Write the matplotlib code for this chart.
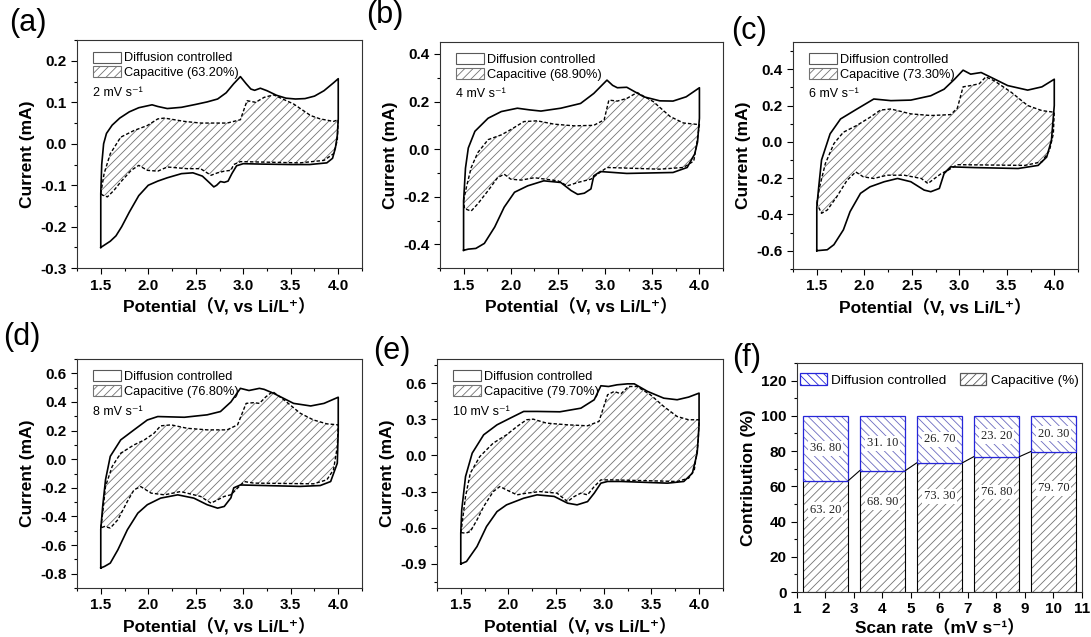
import numpy as np
import matplotlib
matplotlib.use('Agg')
import matplotlib.pyplot as plt
from matplotlib.patches import Patch
from matplotlib.ticker import MultipleLocator, AutoMinorLocator, FormatStrFormatter

plt.rcParams['font.family'] = ['Liberation Sans', 'Noto Sans CJK SC', 'DejaVu Sans']
plt.rcParams['hatch.linewidth'] = 0.6

scan_rates = [2, 4, 6, 8, 10]
capacitive = [63.20, 68.90, 73.30, 76.80, 79.70]
diffusion = [36.80, 31.10, 26.70, 23.20, 20.30]
panel_tags = ['(a)', '(b)', '(c)', '(d)', '(e)', '(f)']

# CV loops as (potential V, current mA): anodic sweep, then cathodic sweep back
a_solid = [(1.5, -0.25), (1.5, -0.12), (1.51, -0.05), (1.53, 0.0), (1.56, 0.025), (1.62, 0.045), (1.7, 0.062),
           (1.8, 0.077), (1.9, 0.087), (2.04, 0.094), (2.1, 0.09), (2.2, 0.085), (2.35, 0.088), (2.5, 0.095),
           (2.62, 0.101), (2.73, 0.108), (2.82, 0.123), (2.9, 0.145), (2.97, 0.162), (3.03, 0.145), (3.08, 0.132),
           (3.12, 0.129), (3.18, 0.134), (3.25, 0.128), (3.35, 0.117), (3.45, 0.11), (3.55, 0.108), (3.65, 0.109),
           (3.75, 0.115), (3.85, 0.128), (3.95, 0.147), (4.0, 0.157),
           (4.0, 0.06), (3.99, 0.02), (3.97, -0.01), (3.94, -0.035), (3.88, -0.046), (3.7, -0.05), (3.5, -0.05),
           (3.2, -0.049), (3.0, -0.048), (2.93, -0.053), (2.88, -0.072), (2.84, -0.09), (2.8, -0.093),
           (2.76, -0.091), (2.72, -0.1), (2.69, -0.104), (2.64, -0.093), (2.57, -0.078), (2.47, -0.07),
           (2.35, -0.072), (2.2, -0.082), (2.1, -0.09), (2.0, -0.1), (1.9, -0.125), (1.8, -0.165), (1.72, -0.2),
           (1.66, -0.222), (1.6, -0.235), (1.5, -0.25)]
a_dash = [(1.5, -0.12), (1.535, -0.072), (1.6, -0.024), (1.71, 0.016), (1.85, 0.032), (1.99, 0.044), (2.1, 0.06),
          (2.17, 0.062), (2.38, 0.054), (2.55, 0.05), (2.83, 0.05), (2.97, 0.058), (3.04, 0.104), (3.13, 0.1),
          (3.22, 0.112), (3.32, 0.118), (3.53, 0.096), (3.71, 0.068), (3.81, 0.06), (3.95, 0.054), (4.0, 0.058),
          (3.99, 0.008), (3.95, -0.024), (3.85, -0.04), (3.6, -0.046), (2.97, -0.043), (2.9, -0.05), (2.87, -0.064),
          (2.8, -0.066), (2.73, -0.07), (2.66, -0.076), (2.55, -0.06), (2.41, -0.06), (2.2, -0.056), (2.1, -0.066),
          (1.99, -0.064), (1.9, -0.052), (1.82, -0.064), (1.71, -0.092), (1.64, -0.112), (1.57, -0.128),
          (1.52, -0.124), (1.5, -0.12)]

b_solid = [(1.5, -0.425), (1.5, -0.22), (1.52, -0.08), (1.55, 0.005), (1.62, 0.075), (1.76, 0.13), (1.9, 0.158),
           (2.07, 0.172), (2.2, 0.165), (2.32, 0.16), (2.53, 0.172), (2.74, 0.192), (2.88, 0.234), (3.02, 0.29),
           (3.08, 0.268), (3.13, 0.258), (3.23, 0.26), (3.32, 0.24), (3.41, 0.22), (3.58, 0.203), (3.72, 0.202),
           (3.86, 0.22), (4.0, 0.258),
           (4.0, 0.13), (3.98, 0.03), (3.95, -0.02), (3.87, -0.077), (3.72, -0.098), (3.23, -0.102), (2.95, -0.094),
           (2.88, -0.112), (2.85, -0.167), (2.78, -0.185), (2.71, -0.19), (2.64, -0.174), (2.53, -0.14),
           (2.35, -0.133), (2.18, -0.154), (2.04, -0.181), (1.93, -0.244), (1.83, -0.327), (1.72, -0.396),
           (1.63, -0.417), (1.55, -0.42), (1.5, -0.425)]
b_dash = [(1.5, -0.216), (1.53, -0.16), (1.58, -0.078), (1.65, -0.015), (1.76, 0.04), (1.9, 0.06), (2.0, 0.082),
          (2.14, 0.116), (2.28, 0.119), (2.46, 0.105), (2.67, 0.098), (2.88, 0.1), (2.99, 0.123), (3.04, 0.206),
          (3.13, 0.202), (3.23, 0.213), (3.34, 0.238), (3.51, 0.2), (3.69, 0.137), (3.83, 0.11), (4.0, 0.103),
          (3.97, 0.02), (3.94, -0.05), (3.83, -0.077), (3.58, -0.084), (3.02, -0.077), (2.92, -0.105),
          (2.85, -0.126), (2.78, -0.133), (2.71, -0.14), (2.6, -0.154), (2.5, -0.133), (2.25, -0.12), (2.11, -0.13),
          (2.0, -0.126), (1.93, -0.105), (1.86, -0.12), (1.76, -0.174), (1.65, -0.23), (1.58, -0.26),
          (1.51, -0.25), (1.5, -0.216)]

c_solid = [(1.5, -0.6), (1.5, -0.36), (1.52, -0.25), (1.55, -0.1), (1.64, 0.044), (1.75, 0.126), (1.92, 0.18),
           (2.1, 0.236), (2.28, 0.227), (2.49, 0.23), (2.7, 0.254), (2.84, 0.29), (2.95, 0.345), (3.04, 0.395),
           (3.12, 0.373), (3.23, 0.382), (3.34, 0.354), (3.51, 0.31), (3.72, 0.285), (3.87, 0.303), (4.0, 0.345),
           (4.0, 0.2), (3.97, 0.008), (3.92, -0.084), (3.83, -0.13), (3.62, -0.147), (3.16, -0.142), (2.91, -0.138),
           (2.84, -0.175), (2.79, -0.257), (2.7, -0.275), (2.63, -0.266), (2.49, -0.22), (2.35, -0.202),
           (2.21, -0.22), (2.06, -0.248), (1.96, -0.284), (1.85, -0.385), (1.78, -0.485), (1.68, -0.567),
           (1.61, -0.595), (1.5, -0.6)]
c_dash = [(1.5, -0.34), (1.53, -0.248), (1.59, -0.12), (1.68, -0.01), (1.78, 0.053), (1.92, 0.09), (2.06, 0.135),
          (2.17, 0.175), (2.28, 0.181), (2.49, 0.154), (2.7, 0.145), (2.91, 0.15), (2.98, 0.186), (3.04, 0.303),
          (3.12, 0.31), (3.21, 0.32), (3.28, 0.358), (3.37, 0.336), (3.55, 0.272), (3.72, 0.2), (3.87, 0.172),
          (4.0, 0.163),
          (3.99, 0.044), (3.95, -0.047), (3.87, -0.11), (3.69, -0.13), (2.98, -0.126), (2.88, -0.157),
          (2.81, -0.175), (2.74, -0.202), (2.67, -0.23), (2.6, -0.202), (2.42, -0.184), (2.24, -0.184),
          (2.1, -0.202), (1.99, -0.193), (1.91, -0.166), (1.82, -0.211), (1.71, -0.303), (1.61, -0.376),
          (1.55, -0.394), (1.5, -0.34)]

d_solid = [(1.5, -0.76), (1.5, -0.49), (1.52, -0.33), (1.55, -0.144), (1.6, 0.02), (1.71, 0.135), (1.85, 0.205),
           (1.99, 0.274), (2.1, 0.298), (2.38, 0.293), (2.62, 0.31), (2.76, 0.333), (2.87, 0.4), (2.97, 0.495),
           (3.06, 0.48), (3.17, 0.495), (3.22, 0.488), (3.32, 0.46), (3.53, 0.39), (3.71, 0.372), (3.85, 0.39),
           (4.0, 0.433),
           (4.0, 0.2), (3.99, -0.028), (3.92, -0.156), (3.81, -0.184), (3.6, -0.19), (2.97, -0.18), (2.9, -0.2),
           (2.87, -0.27), (2.8, -0.33), (2.73, -0.342), (2.62, -0.318), (2.48, -0.272), (2.31, -0.249),
           (2.13, -0.272), (1.99, -0.318), (1.89, -0.377), (1.78, -0.493), (1.68, -0.633), (1.6, -0.726),
           (1.54, -0.749), (1.5, -0.76)]
d_dash = [(1.5, -0.48), (1.52, -0.377), (1.55, -0.19), (1.62, -0.051), (1.71, 0.042), (1.85, 0.1), (1.96, 0.135),
          (2.06, 0.181), (2.13, 0.233), (2.24, 0.24), (2.41, 0.216), (2.62, 0.205), (2.83, 0.205), (2.94, 0.24),
          (3.03, 0.39), (3.11, 0.395), (3.17, 0.39), (3.24, 0.437), (3.31, 0.472), (3.43, 0.414), (3.6, 0.321),
          (3.74, 0.274), (3.88, 0.247), (4.0, 0.24),
          (3.99, 0.088), (3.95, -0.074), (3.88, -0.144), (3.74, -0.172), (3.11, -0.167), (3.01, -0.156),
          (2.94, -0.202), (2.87, -0.249), (2.8, -0.26), (2.73, -0.284), (2.66, -0.307), (2.55, -0.26),
          (2.34, -0.226), (2.17, -0.249), (2.03, -0.237), (1.92, -0.191), (1.85, -0.214), (1.78, -0.295),
          (1.68, -0.423), (1.6, -0.481), (1.54, -0.47), (1.5, -0.48)]

e_solid = [(1.5, -0.9), (1.5, -0.645), (1.51, -0.452), (1.55, -0.175), (1.62, 0.019), (1.74, 0.171),
           (1.88, 0.254), (2.02, 0.31), (2.16, 0.365), (2.3, 0.365), (2.54, 0.362), (2.76, 0.392), (2.9, 0.462),
           (2.97, 0.578), (3.05, 0.572), (3.14, 0.586), (3.25, 0.594), (3.32, 0.594), (3.46, 0.531), (3.63, 0.475),
           (3.77, 0.462), (3.89, 0.484), (4.0, 0.517),
           (4.0, 0.25), (3.98, 0.019), (3.93, -0.147), (3.84, -0.216), (3.67, -0.23), (3.18, -0.216),
           (3.04, -0.216), (2.97, -0.23), (2.9, -0.313), (2.83, -0.383), (2.72, -0.41), (2.62, -0.396),
           (2.48, -0.34), (2.3, -0.327), (2.16, -0.355), (1.98, -0.41), (1.88, -0.466), (1.77, -0.59),
           (1.67, -0.756), (1.56, -0.88), (1.5, -0.9)]
e_dash = [(1.5, -0.64), (1.51, -0.59), (1.55, -0.34), (1.6, -0.147), (1.7, -0.009), (1.84, 0.102), (1.98, 0.171),
          (2.09, 0.24), (2.19, 0.296), (2.26, 0.301), (2.4, 0.268), (2.62, 0.254), (2.83, 0.246), (2.95, 0.282),
          (3.04, 0.503), (3.11, 0.531), (3.18, 0.511), (3.26, 0.572), (3.35, 0.572), (3.49, 0.503), (3.63, 0.406),
          (3.77, 0.323), (3.89, 0.296), (4.0, 0.296),
          (3.99, 0.102), (3.95, -0.12), (3.89, -0.189), (3.77, -0.216), (3.11, -0.203), (2.97, -0.203),
          (2.9, -0.258), (2.83, -0.327), (2.76, -0.313), (2.69, -0.341), (2.62, -0.383), (2.51, -0.313),
          (2.33, -0.3), (2.19, -0.313), (2.09, -0.327), (1.98, -0.286), (1.91, -0.258), (1.84, -0.3),
          (1.74, -0.424), (1.67, -0.535), (1.6, -0.632), (1.55, -0.645), (1.5, -0.64)]

solid_loops = [a_solid, b_solid, c_solid, d_solid, e_solid]
dash_loops = [a_dash, b_dash, c_dash, d_dash, e_dash]

# layout (figure fractions) and axis ranges
rects = [[0.0706, 0.579, 0.2612, 0.358], [0.4033, 0.579, 0.2594, 0.355], [0.7269, 0.578, 0.2612, 0.356],
         [0.0706, 0.0769, 0.2612, 0.3595], [0.4005, 0.0769, 0.2621, 0.3595], [0.7305, 0.0706, 0.2612, 0.3595]]
ylims = [(-0.3, 0.25), (-0.5, 0.45), (-0.7, 0.55), (-0.9, 0.7), (-1.1, 0.8)]
ysteps = [0.1, 0.2, 0.2, 0.2, 0.3]
tag_px = [(9, 8), (366, 0), (731, 16), (3, 322), (373, 336), (732, 343)]

fig = plt.figure(figsize=(10.91, 6.37), dpi=100)
xlab = 'Potential（V, vs Li/L⁺）'


def style_axes(ax):
    for s in ax.spines.values():
        s.set_linewidth(0.8)
        s.set_color('#333333')
    ax.tick_params(which='both', direction='out', top=False, right=False, width=0.8, labelsize=11)
    ax.tick_params(which='major', length=4)
    ax.tick_params(which='minor', length=2)
    plt.setp(ax.get_xticklabels() + ax.get_yticklabels(), fontweight='bold')


for i in range(5):
    ax = fig.add_axes(rects[i])
    sol = np.array(solid_loops[i])
    das = np.array(dash_loops[i])
    ax.fill(das[:, 0], das[:, 1], facecolor='white', edgecolor='0.45', hatch='////', linewidth=0)
    ax.plot(sol[:, 0], sol[:, 1], color='black', lw=1.2)
    ax.plot(das[:, 0], das[:, 1], color='black', lw=1.0, dashes=(2.5, 1.5))
    ax.set_xlim(1.25, 4.25)
    ax.set_ylim(*ylims[i])
    ax.xaxis.set_major_locator(MultipleLocator(0.5))
    ax.xaxis.set_minor_locator(AutoMinorLocator(2))
    ax.yaxis.set_major_locator(MultipleLocator(ysteps[i]))
    ax.yaxis.set_minor_locator(AutoMinorLocator(2))
    ax.xaxis.set_major_formatter(FormatStrFormatter('%.1f'))
    ax.yaxis.set_major_formatter(FormatStrFormatter('%.1f'))
    style_axes(ax)
    ax.set_xlabel(xlab, fontsize=12.5, fontweight='bold', labelpad=4)
    ax.set_ylabel('Current (mA)', fontsize=12.5, fontweight='bold', labelpad=4)
    handles = [Patch(facecolor='white', edgecolor='0.35', lw=0.8),
               Patch(facecolor='white', edgecolor='0.45', hatch='////', lw=0.8)]
    ax.legend(handles, ['Diffusion controlled', 'Capacitive (%.2f%%)' % capacitive[i]],
              loc='upper left', bbox_to_anchor=(0.056, 0.95), borderaxespad=0, borderpad=0,
              frameon=False, fontsize=9.2, handlelength=2.2, handleheight=0.95,
              labelspacing=0.15, handletextpad=0.25)
    ax.text(0.056, 0.77, '%d mV s⁻¹' % scan_rates[i], transform=ax.transAxes,
            fontsize=9, va='center', ha='left')

# (f) contribution bars
ax = fig.add_axes(rects[5])
w = 1.6
ax.bar(scan_rates, capacitive, width=w, color='white', edgecolor='0.45', hatch='////', lw=0)
ax.bar(scan_rates, capacitive, width=w, fill=False, edgecolor='black', lw=0.8)
ax.bar(scan_rates, diffusion, width=w, bottom=capacitive, color='white', edgecolor='#6b6bc0',
       hatch='\\\\\\\\', lw=0)
ax.bar(scan_rates, diffusion, width=w, bottom=capacitive, fill=False, edgecolor='#2626d9', lw=0.9)
for k in range(len(scan_rates) - 1):
    ax.plot([scan_rates[k] + w / 2, scan_rates[k + 1] - w / 2], [capacitive[k], capacitive[k + 1]],
            color='black', lw=0.8)
for x, c, d in zip(scan_rates, capacitive, diffusion):
    ax.text(x, c + d / 2, ('%.2f' % d).replace('.', '. '), ha='center', va='center', fontsize=9,
            family='Liberation Serif', color='#222222',
            bbox=dict(facecolor='white', edgecolor='none', pad=1))
    ax.text(x, c * 0.74, ('%.2f' % c).replace('.', '. '), ha='center', va='center', fontsize=9,
            family='Liberation Serif', color='#222222',
            bbox=dict(facecolor='white', edgecolor='none', pad=1))
ax.set_xlim(1, 11)
ax.set_ylim(0, 130)
ax.xaxis.set_major_locator(MultipleLocator(1))
ax.yaxis.set_major_locator(MultipleLocator(20))
ax.yaxis.set_minor_locator(AutoMinorLocator(2))
style_axes(ax)
ax.set_xlabel('Scan rate（mV s⁻¹）', fontsize=12.5, fontweight='bold', labelpad=2)
ax.set_ylabel('Contribution (%)', fontsize=12.5, fontweight='bold', labelpad=4)
fh = [Patch(facecolor='white', edgecolor='#2626d9', hatch='\\\\\\\\', lw=0.9),
      Patch(facecolor='white', edgecolor='0.35', hatch='////', lw=0.9)]
ax.legend(fh, ['Diffusion controlled', 'Capacitive (%)'], loc='upper left', bbox_to_anchor=(0.01, 0.955),
          borderaxespad=0, borderpad=0, frameon=False, ncol=2, fontsize=9.7, handlelength=2.0,
          handleheight=0.9, handletextpad=0.3, columnspacing=1.0)

for (px, py), tag in zip(tag_px, panel_tags):
    fig.text(px / 1091, 1 - py / 637, tag, fontsize=22, va='top', ha='left')

fig.savefig('out.png', dpi=100)
